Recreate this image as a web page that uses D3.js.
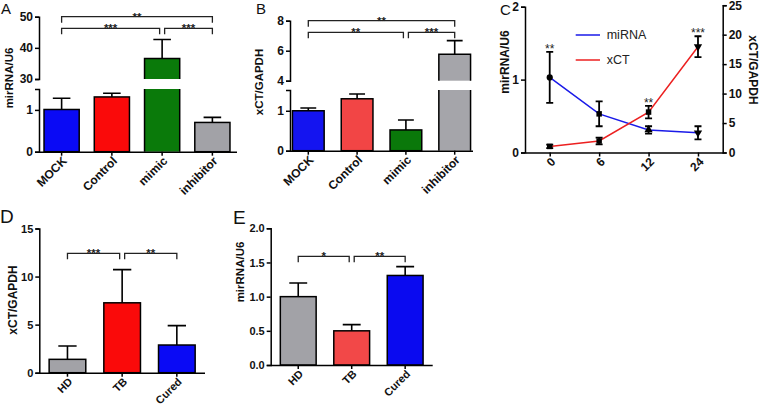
<!DOCTYPE html>
<html>
<head>
<meta charset="utf-8">
<script src="https://cdn.jsdelivr.net/npm/d3@7"></script>
<style>
  body { margin: 0; background: #fff; }
  svg { display: block; }
</style>
</head>
<body>
<svg id="fig" width="760" height="407"></svg>
<script>
// ---- data ----
const cellGroups = ["MOCK", "Control", "mimic", "inhibitor"];
const mirMean = [1.01, 1.31, 36.6, 0.70];     // panel A, miRNA/U6
const mirSem = [0.27, 0.09, 6.1, 0.12];
const xctMean = [1.00, 1.30, 0.52, 5.76];     // panel B, xCT/GAPDH
const xctSem = [0.07, 0.12, 0.25, 0.91];

const hours = ["0", "6", "12", "24"];          // panel C
const timeMir = [1.03, 0.53, 0.31, 0.27];
const timeMirErr = [0.35, 0.17, 0.05, 0.09];
const timeXct = [1.03, 1.95, 6.86, 17.96];
const timeXctErr = [0.30, 0.57, 1.06, 1.77];
const timeSig = ["**", "", "**", "***"];

const patientGroups = ["HD", "TB", "Cured"];
const patXct = [1.39, 7.27, 2.88];             // panel D
const patXctSem = [1.38, 3.45, 2.02];
const patMir = [1.00, 0.50, 1.31];             // panel E
const patMirSem = [0.20, 0.09, 0.13];

// significance brackets: [from, to, label, row]
const sigA = [[0, 3, "**", 0], [0, 2, "***", 1], [2, 3, "***", 1]];
const sigB = [[0, 3, "**", 0], [0, 2, "**", 1], [2, 3, "***", 1]];
const sigD = [[0, 1, "***", 0], [1, 2, "**", 0]];
const sigE = [[0, 1, "*", 0], [1, 2, "**", 0]];

const FONT = '"Liberation Sans", Arial, Helvetica, sans-serif';
const svg = d3.select("#fig");

function styleAxis(g, fs) {
  g.attr("font-family", FONT).attr("font-size", fs);
  g.selectAll("path.domain").attr("stroke", "#000").attr("stroke-width", 1.5);
  g.selectAll(".tick line").attr("stroke", "#000").attr("stroke-width", 1.5);
  g.selectAll(".tick text").attr("fill", "#111").attr("font-weight", "bold");
}

function yTitle(x, y, txt, fs) {
  svg.append("text")
    .attr("transform", "translate(" + x + "," + y + ") rotate(-90)")
    .attr("text-anchor", "middle").attr("dy", "0.35em")
    .attr("font-family", FONT).attr("font-size", fs).attr("font-weight", "bold")
    .attr("fill", "#111").text(txt);
}

function panelLetter(x, y, txt, fs) {
  svg.append("text").attr("x", x).attr("y", y)
    .attr("font-family", FONT).attr("font-size", fs).attr("fill", "#111").text(txt);
}

function rotateXLabels(ax) {
  ax.selectAll(".tick text")
    .attr("x", 0).attr("y", 0).attr("dy", "0.35em")
    .attr("text-anchor", "end")
    .attr("transform", "translate(3,7) rotate(-45)");
}

// bar chart with optional broken y axis (segs[0] is the lower part)
function barPanel(o) {
  const g = svg.append("g");
  const x = d3.scaleBand().domain(o.cats).range([o.left, o.right])
    .paddingInner(o.padIn).paddingOuter(o.padOut);
  const ys = o.segs.map(s => d3.scaleLinear().domain(s.domain).range(s.range));
  const yOf = v => {
    for (const s of ys) {
      const d = s.domain();
      if (v >= d[0] && v <= d[1] + 1e-9) return s(v);
    }
    return ys[ys.length - 1](v);
  };
  const base = o.segs[0].range[0];
  const bw = x.bandwidth();

  // bars
  o.vals.forEach((v, i) => {
    const x0 = x(o.cats[i]);
    const lowTop = ys[0].domain()[1];
    if (ys.length > 1 && v > lowTop) {
      const t0 = ys[0].range()[1];
      const u0 = ys[1](ys[1].domain()[0]), u1 = ys[1](v);
      g.append("rect").attr("x", x0).attr("y", t0).attr("width", bw).attr("height", base - t0)
        .attr("fill", o.colors[i]);
      g.append("rect").attr("x", x0).attr("y", u1).attr("width", bw).attr("height", u0 - u1)
        .attr("fill", o.colors[i]);
      g.append("path")
        .attr("d", "M" + x0 + "," + t0 + "V" + base + "M" + (x0 + bw) + "," + t0 + "V" + base +
          "M" + x0 + "," + u0 + "V" + u1 + "H" + (x0 + bw) + "V" + u0)
        .attr("fill", "none").attr("stroke", "#000").attr("stroke-width", 1.5);
    } else {
      g.append("rect").attr("x", x0).attr("y", yOf(v)).attr("width", bw).attr("height", base - yOf(v))
        .attr("fill", o.colors[i]).attr("stroke", "#000").attr("stroke-width", 1.5);
    }
    // upper error bar
    const cx = x0 + bw / 2, ye = yOf(v + o.errs[i]);
    g.append("path")
      .attr("d", "M" + cx + "," + yOf(v) + "V" + ye + "M" + (cx - bw / 4) + "," + ye + "H" + (cx + bw / 4))
      .attr("fill", "none").attr("stroke", "#000").attr("stroke-width", 1.6);
  });

  // y axis segments
  o.segs.forEach((s, i) => {
    const ax = g.append("g").attr("transform", "translate(" + o.left + ",0)")
      .call(d3.axisLeft(ys[i]).tickValues(s.ticks).tickSize(4).tickSizeOuter(4)
        .tickPadding(2).tickFormat(d3.format(o.fmt)));
    styleAxis(ax, o.fs);
  });

  // x axis
  const xa = g.append("g").attr("transform", "translate(0," + base + ")")
    .call(d3.axisBottom(x).tickSize(4).tickSizeOuter(0));
  styleAxis(xa, o.fs);
  xa.select("path.domain").attr("d", "M" + o.left + ",0.5H" + o.axisEnd);
  rotateXLabels(xa);

  // significance brackets
  o.sig.forEach(s => {
    const [a, b, lab, row] = s;
    const sameRow = o.sig.filter(t => t[3] === row && t !== s);
    const padL = sameRow.some(t => t[1] === a) ? 2.5 : 0;
    const padR = sameRow.some(t => t[0] === b) ? 2.5 : 0;
    const xa0 = x(o.cats[a]) + bw / 2 + padL;
    const xb0 = x(o.cats[b]) + bw / 2 - padR;
    const yy = o.rows[row];
    g.append("path")
      .attr("d", "M" + xa0 + "," + (yy + 6) + "V" + yy + "H" + xb0 + "V" + (yy + 6))
      .attr("fill", "none").attr("stroke", "#222").attr("stroke-width", 1.3);
    g.append("text").attr("x", (xa0 + xb0) / 2).attr("y", yy + 3.8)
      .attr("text-anchor", "middle").attr("font-family", FONT).attr("font-size", 11.5)
      .attr("font-weight", "bold").attr("fill", "#222").text(lab);
  });
}

// ---- panel A ----
barPanel({
  cats: cellGroups, vals: mirMean, errs: mirSem,
  colors: ["#0a0af5", "#fa0a0a", "#0a7a0a", "#a2a2a7"],
  left: 39, right: 235, axisEnd: 237, padIn: 0.3, padOut: 0.1,
  segs: [{ domain: [0, 1.5], range: [151.7, 89], ticks: [0, 1] },
         { domain: [30, 50], range: [79, 16.7], ticks: [30, 40, 50] }],
  fmt: "d", fs: 12, sig: sigA, rows: [16.7, 28.3]
});
yTitle(9, 78, "mirRNA/U6", 11.5);
panelLetter(1, 14, "A", 15);

// ---- panel B ----
barPanel({
  cats: cellGroups, vals: xctMean, errs: xctSem,
  colors: ["#1414f0", "#f24545", "#0a780a", "#a5a5aa"],
  left: 290, right: 473, axisEnd: 473, padIn: 0.35, padOut: 0.05,
  segs: [{ domain: [0, 1.52], range: [150.7, 90], ticks: [0, 1] },
         { domain: [4, 8], range: [80.7, 20.7], ticks: [4, 6, 8] }],
  fmt: "d", fs: 12, sig: sigB, rows: [20.7, 32.3]
});
yTitle(259, 82, "xCT/GAPDH", 11.5);
panelLetter(256, 14, "B", 15);

// ---- panel C ----
(function () {
  const g = svg.append("g");
  const x = d3.scalePoint().domain(hours).range([525, 722.7]).padding(0.5);
  const yL = d3.scaleLinear().domain([0, 2]).range([152.5, 6.7]);
  const yR = d3.scaleLinear().domain([0, 25]).range([152.5, 5.2]);
  const series = [
    { vals: timeMir, errs: timeMirErr, y: yL, color: "#1a1ae8", sym: [d3.symbolCircle, d3.symbolSquare, d3.symbolTriangle, d3.symbolTriangle], flip: [0, 0, 0, 1] },
    { vals: timeXct, errs: timeXctErr, y: yR, color: "#ec2020", sym: [d3.symbolSquare, d3.symbolSquare, d3.symbolSquare, d3.symbolTriangle], flip: [0, 0, 0, 1] }
  ];
  series.forEach(s => {
    const line = d3.line().x((d, i) => x(hours[i])).y(d => s.y(d));
    g.append("path").datum(s.vals).attr("d", line)
      .attr("fill", "none").attr("stroke", s.color).attr("stroke-width", 1.5);
  });
  series.forEach(s => {
    s.vals.forEach((v, i) => {
      const cx = x(hours[i]), y1 = s.y(v + s.errs[i]), y0 = s.y(v - s.errs[i]);
      g.append("path")
        .attr("d", "M" + cx + "," + y0 + "V" + y1 + "M" + (cx - 3.5) + "," + y1 + "h7M" + (cx - 3.5) + "," + y0 + "h7")
        .attr("fill", "none").attr("stroke", "#000").attr("stroke-width", 1.8);
      g.append("path")
        .attr("d", d3.symbol().type(s.sym[i]).size(30)())
        .attr("transform", "translate(" + cx + "," + s.y(v) + ")" + (s.flip[i] ? " rotate(180)" : ""))
        .attr("fill", "#000");
    });
  });
  // significance stars above the highest error bar
  timeSig.forEach((lab, i) => {
    if (!lab) return;
    const top = Math.min(...series.map(s => s.y(s.vals[i] + s.errs[i])));
    g.append("text").attr("x", x(hours[i])).attr("y", top + 1)
      .attr("text-anchor", "middle").attr("font-family", FONT).attr("font-size", 12)
      .attr("fill", "#222").text(lab);
  });
  const axL = g.append("g").attr("transform", "translate(525,0)")
    .call(d3.axisLeft(yL).ticks(2).tickSize(4).tickPadding(2));
  styleAxis(axL, 12);
  const axR = g.append("g").attr("transform", "translate(722.7,0)")
    .call(d3.axisRight(yR).tickValues([0, 5, 10, 15, 20, 25]).tickSize(4).tickPadding(2));
  styleAxis(axR, 12);
  const axX = g.append("g").attr("transform", "translate(0,152.5)")
    .call(d3.axisBottom(x).tickSize(4).tickSizeOuter(0));
  styleAxis(axX, 12);
  rotateXLabels(axX);
  // legend
  const leg = [["miRNA", "#1a1ae8"], ["xCT", "#ec2020"]];
  leg.forEach((d, i) => {
    const yy = 35 + i * 25;
    g.append("line").attr("x1", 575.7).attr("x2", 600).attr("y1", yy).attr("y2", yy)
      .attr("stroke", d[1]).attr("stroke-width", 1.5);
    g.append("text").attr("x", 606.7).attr("y", yy).attr("dy", "0.35em")
      .attr("font-family", FONT).attr("font-size", 12.5).attr("fill", "#222").text(d[0]);
  });
})();
yTitle(505, 62, "mirRNA/U6", 12);
svg.append("text")
  .attr("transform", "translate(753,70) rotate(90)")
  .attr("text-anchor", "middle").attr("dy", "0.35em")
  .attr("font-family", FONT).attr("font-size", 12).attr("font-weight", "bold")
  .attr("fill", "#111").text("xCT/GAPDH");
panelLetter(500, 15, "C", 15);

// ---- panel D ----
barPanel({
  cats: patientGroups, vals: patXct, errs: patXctSem,
  colors: ["#a2a2a7", "#fa0a0a", "#0a0af5"],
  left: 39.3, right: 205, axisEnd: 205, padIn: 0.33, padOut: 0.18,
  segs: [{ domain: [0, 15], range: [372.7, 228.5], ticks: [0, 5, 10, 15] }],
  fmt: "d", fs: 11, sig: sigD, rows: [253.3]
});
yTitle(12.5, 300, "xCT/GAPDH", 12);
panelLetter(0, 223, "D", 19);

// ---- panel E ----
barPanel({
  cats: patientGroups, vals: patMir, errs: patMirSem,
  colors: ["#a2a2a7", "#f24848", "#0a0af0"],
  left: 270.7, right: 432.7, axisEnd: 432.7, padIn: 0.33, padOut: 0.18,
  segs: [{ domain: [0, 2], range: [365, 228.3], ticks: [0, 0.5, 1, 1.5, 2] }],
  fmt: ".1f", fs: 11, sig: sigE, rows: [256.3]
});
yTitle(240, 272, "mirRNA/U6", 11.5);
panelLetter(233, 224, "E", 19);
</script>
</body>
</html>
